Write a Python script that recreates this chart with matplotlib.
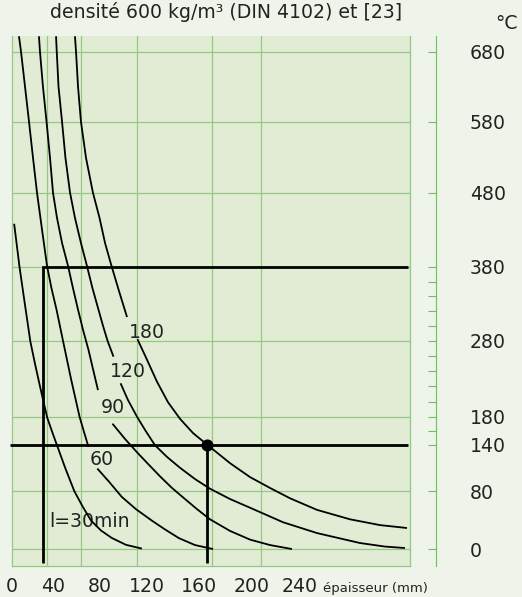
import numpy as np
import matplotlib
matplotlib.use('Agg')
import matplotlib.pyplot as plt

# épaisseur (mm) / température (°C)
# (curves 60..180 are split where the label sits)
ep_30 = [2.1, 4.7, 7.3, 12.5, 17.9, 22.7, 27.8, 34.3, 39.0, 43.4, 50.6, 58.1, 65.1, 72.5, 80.9, 89.9, 102.1, 115.7]
t_30 = [438, 409, 380, 330, 279, 248, 217, 179, 159, 139, 109, 80, 59, 39, 25.5, 15.4, 5.8, 0.6]

ep_60_a = [6.8, 8.8, 12.7, 16.6, 20.5, 24.4, 29.3, 34.2, 38.5, 43.0, 48.5, 55.3, 62.6, 66.4, 70.2]
t_60_a = [702, 680, 630, 580, 529, 480, 430, 381, 351, 322, 280, 230, 180, 158, 137]
ep_60_b = [77.7, 87.7, 98.5, 110.6, 123.9, 133.9, 144.6, 156.9, 170.6]
t_60_b = [109, 92, 72, 55, 39, 27, 15, 5.5, 0]

ep_90_a = [26.3, 27.3, 30.2, 33.7, 37.1, 40.0, 43.4, 47.7, 52.8, 57.0, 61.3, 65.5, 70.2, 74.0, 78.3]
t_90_a = [702, 680, 630, 580, 529, 480, 446, 412, 381, 351, 322, 295, 268, 243, 215]
ep_90_b = [90.6, 101.3, 111.5, 120.8, 130.0, 139.2, 149.2, 158.5, 168.3, 183.4, 198.5, 215.0, 233.3]
t_90_b = [170, 148, 130, 115, 99, 84, 69, 55, 41, 25, 13, 5.5, 0]

ep_120_a = [42.6, 43.2, 44.7, 47.7, 50.6, 54.5, 58.7, 63.8, 68.9, 73.6, 78.7, 82.6, 86.4, 91.5]
t_120_a = [702, 680, 630, 580, 529, 480, 446, 412, 381, 351, 322, 300, 280, 259]
ep_120_b = [97.5, 103.8, 111.5, 118.7, 126.2, 135.4, 145.4, 156.9, 168.3, 183.4, 198.5, 225.8, 254.2, 290.0, 310.8, 327.5]
t_120_b = [224, 202, 180, 160, 139, 124, 110, 95.5, 83, 69, 57, 37, 22, 8.3, 3.4, 1.4]

ep_180_a = [58.7, 59.6, 61.3, 63.8, 68.1, 74.0, 79.6, 84.3, 90.0, 96.2, 103.0]
t_180_a = [702, 680, 630, 580, 529, 480, 446, 412, 380, 347, 312]
ep_180_b = [111.9, 120.0, 127.7, 136.2, 145.4, 155.4, 166.0, 183.4, 198.5, 215.0, 231.7, 254.2, 281.7, 306.7, 329.2]
t_180_b = [282, 255, 226, 199, 177, 156.5, 140, 116, 98, 84, 70, 54, 41, 33, 29]

# reading examples (thick lines)
ex1_ep = [30, 30, 330]
ex1_t = [-19, 380, 380]
ex2_ep = [-2, 330]
ex2_t = [140, 140]
ex2_drop_ep = [166, 166]
ex2_drop_t = [140, -19]
dot_ep, dot_t = 166, 140

x_ticks = [0, 40, 80, 120, 160, 200, 240]
y_ticks = [0, 80, 140, 180, 280, 380, 480, 580, 680]
y_minor = [160, 200, 220, 240, 260, 300, 320, 340, 360]
y_grid = [0, 80, 180, 280, 380, 480, 580, 680]
x_grid = [34.1, 63.8, 111.5, 169.8, 207.5]

# the printed scales are not quite even, so map them piecewise
xk_mm = [-40, 0, 40, 80, 120, 160, 200, 240, 400]
xk_px = [-29, 12, 53, 100, 147, 199, 252, 300, 492]
yk_t = [-200, 0, 80, 140, 180, 280, 380, 480, 580, 680, 900]
yk_px = [694, 549, 491, 444.5, 416.7, 340.7, 266.7, 192.7, 121.7, 51.7, -102.3]


def x_fwd(v):
    return np.interp(v, xk_mm, xk_px)


def x_inv(p):
    return np.interp(p, xk_px, xk_mm)


def y_fwd(v):
    return -np.interp(v, yk_t, yk_px)


def y_inv(p):
    return np.interp(-np.asarray(p), yk_px[::-1], yk_t[::-1])


bg = '#eef4ea'
fill = '#e2ecd5'
green = '#93c983'
tick_green = '#6fbf5f'
ink = '#222222'
fs = 13.6

plt.rcParams['font.family'] = 'DejaVu Sans'
fig = plt.figure(figsize=(5.22, 5.97), dpi=100, facecolor=bg)
ax = fig.add_axes([12 / 522, 31 / 597, 398 / 522, 530 / 597], facecolor=fill)
ax.set_xscale('function', functions=(x_fwd, x_inv))
ax.set_yscale('function', functions=(y_fwd, y_inv))
ax.set_xlim(0, 331.7)
ax.set_ylim(-23.4, 702.4)

for g in y_grid:
    ax.axhline(g, color=green, lw=0.9, zorder=1)
for g in x_grid:
    ax.axvline(g, color=green, lw=0.9, zorder=1)
ax.plot([1, 1], [0, 1], transform=ax.transAxes, color=green, lw=0.9, clip_on=False)

curve_kw = dict(color='black', lw=1.3, zorder=3, solid_capstyle='butt', solid_joinstyle='round')
for e, t in [(ep_30, t_30), (ep_60_a, t_60_a), (ep_60_b, t_60_b), (ep_90_a, t_90_a), (ep_90_b, t_90_b),
             (ep_120_a, t_120_a), (ep_120_b, t_120_b), (ep_180_a, t_180_a), (ep_180_b, t_180_b)]:
    ax.plot(e, t, **curve_kw)

thick = dict(color='black', lw=2.0, zorder=4, solid_joinstyle='miter', solid_capstyle='butt')
ax.plot(ex1_ep, ex1_t, **thick)
ax.plot(ex2_ep, ex2_t, clip_on=False, **thick)
ax.plot(ex2_drop_ep, ex2_drop_t, **thick)
ax.plot(dot_ep, dot_t, 'o', color='black', ms=7.7, zorder=5)

ax.text(120, 283.6, '180', ha='center', va='baseline', fontsize=fs, color=ink, zorder=6)
ax.text(103.5, 232.2, '120', ha='center', va='baseline', fontsize=fs, color=ink, zorder=6)
ax.text(90.6, 185.5, '90', ha='center', va='baseline', fontsize=fs, color=ink, zorder=6)
ax.text(81.7, 113.5, '60', ha='center', va='baseline', fontsize=fs, color=ink, zorder=6)
ax.text(36.1, 29.7, 'l=30min', ha='left', va='baseline', fontsize=fs, color=ink, zorder=2)

ax.spines['top'].set_visible(False)
for s in ['left', 'bottom']:
    ax.spines[s].set_color(green)
    ax.spines[s].set_linewidth(0.9)
ax.spines['right'].set_position(('outward', 18.72))
ax.spines['right'].set_color(tick_green)
ax.spines['right'].set_linewidth(0.8)

ax.yaxis.tick_right()
ax.set_yticks(y_ticks)
ax.set_yticks(y_minor, minor=True)
ax.set_yticklabels([str(v) for v in y_ticks])
ax.tick_params(axis='y', which='both', direction='in', length=5.76, width=0.8,
               color=tick_green, pad=24.5, labelsize=fs, labelcolor=ink)
ax.set_xticks(x_ticks)
ax.set_xticklabels([str(v) for v in x_ticks])
ax.xaxis.set_minor_locator(matplotlib.ticker.NullLocator())
ax.tick_params(axis='x', length=0, pad=8, labelsize=fs, labelcolor=ink)

fig.text(50 / 522, 1 - 17.5 / 597, 'densité 600 kg/m³ (DIN 4102) et [23]',
         ha='left', va='baseline', fontsize=fs, color=ink)
fig.text(518 / 522, 1 - 29.3 / 597, '°C', ha='right', va='baseline', fontsize=fs, color=ink)
fig.text(323 / 522, 1 - 592 / 597, 'épaisseur (mm)', ha='left', va='baseline',
         fontsize=9.5, color=ink)

fig.savefig('out.png', dpi=100, facecolor=bg)
